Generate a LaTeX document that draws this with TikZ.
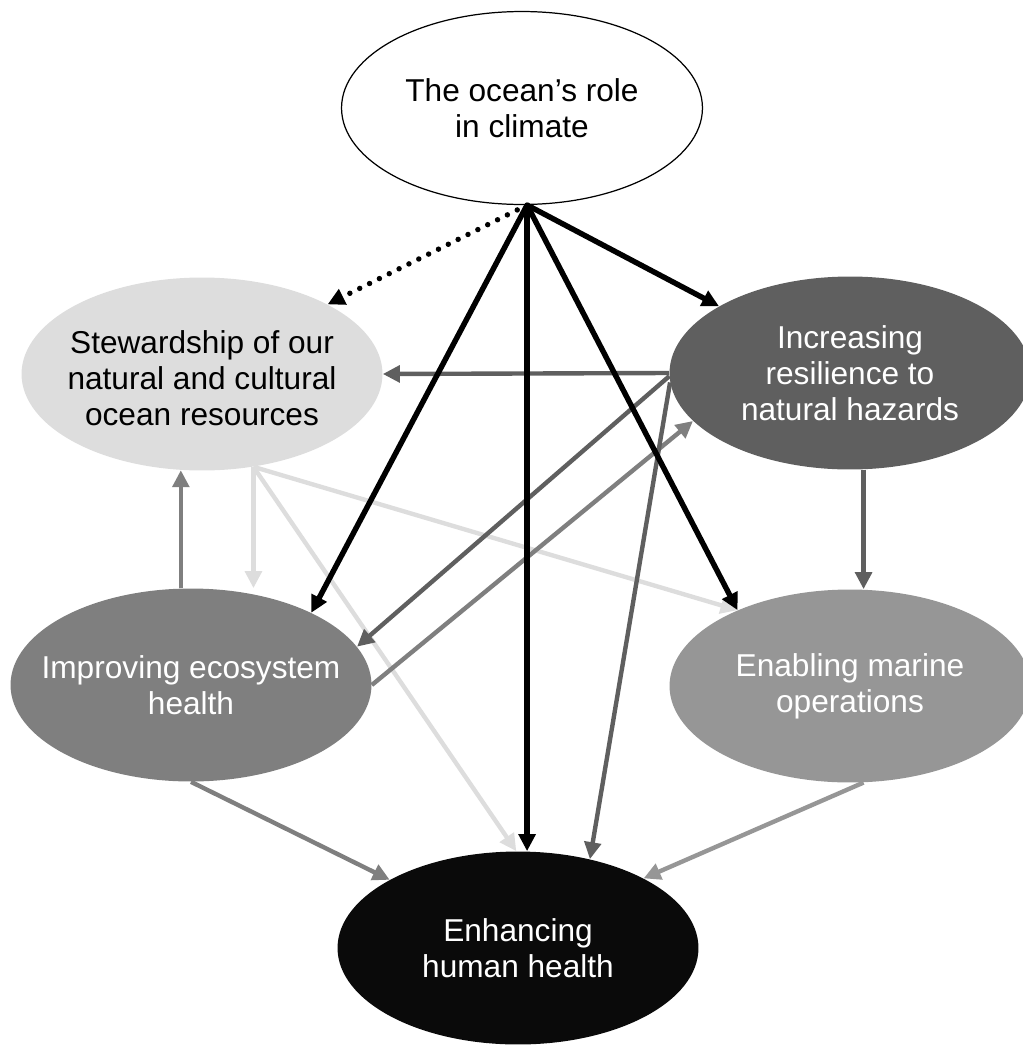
\documentclass[tikz,border=0pt]{standalone}
\usepackage{fontspec}
\setmainfont{Liberation Sans}
\usepackage{tikz}
\usetikzlibrary{shapes.geometric, arrows.meta}

\definecolor{stewgray}{HTML}{DDDDDD}
\definecolor{resilgray}{HTML}{5F5F5F}
\definecolor{ecogray}{HTML}{7F7F7F}
\definecolor{enabgray}{HTML}{969696}
\definecolor{healthblack}{HTML}{0A0A0A}

\begin{document}
\begin{tikzpicture}[x=0.02cm, y=-0.02cm,
    oval/.style={ellipse, minimum width=7.22cm, minimum height=3.86cm, inner sep=0pt},
    txt/.style={align=center, font=\fontsize{18}{20.5}\selectfont, inner sep=0pt},
    link/.style={line width=2.5pt, -{Triangle[length=0.34cm, width=0.33cm]}},
    bold link/.style={link, line width=3.1pt, black}] % coordinates are in pixels of the figure

        \useasboundingbox (0,0) rectangle (1022,1045);

        % Define the 6 ovals, then put the text on top of each
        \node[oval, draw=black, line width=0.7pt, fill=white] (clim) at (522,108) {};
        \node[oval, fill=stewgray] (stew) at (202,374) {};
        \node[oval, fill=resilgray] (resil) at (850,373) {};
        \node[oval, fill=ecogray] (eco) at (191,685) {};
        \node[oval, fill=enabgray] (enab) at (850,686) {};
        \node[oval, fill=healthblack] (hlth) at (518,948) {};

        \node[txt, text=black] (clim-t) at (clim) {The ocean’s role\\in climate};
        \node[txt, text=black] (stew-t) at ([yshift=-0.08cm]stew) {Stewardship of our\\natural and cultural\\ocean resources};
        \node[txt, text=white] (resil-t) at (resil) {Increasing\\resilience to\\natural hazards};
        \node[txt, text=white] (eco-t) at (eco) {Improving ecosystem\\health};
        \node[txt, text=white] (enab-t) at (enab) {Enabling marine\\operations};
        \node[txt, text=white] (hlth-t) at (hlth) {Enhancing\\human health};

        % Arrows out of stewardship (light gray)
        \draw[link, stewgray] (stew.-61) -- (stew.-61 |- eco.north);
        \draw[link, stewgray] (stew.-61) -- (hlth.91);
        \draw[link, stewgray] (stew.-61) -- (enab.146);

        % Arrows out of ecosystem health
        \draw[link, ecogray] (eco.96) -- (eco.96 |- stew.258);
        \draw[link, ecogray] (eco.east) -- (resil.197);
        \draw[link, ecogray] (eco.south) -- (hlth.152);

        % Arrows out of natural hazards
        \draw[link, resilgray] (resil.west) -- (stew.east);
        \draw[link, resilgray] (resil.181) -- (eco.13);
        \draw[link, resilgray] (resil.183) -- (hlth.51);
        \draw[link, resilgray] (resil.-82) -- (resil.-82 |- enab.north);

        % Arrow out of marine operations
        \draw[link, enabgray] (enab.-82) -- (hlth.29);

        % Arrows out of climate (black), the dotted one to stewardship
        \draw[bold link, dash pattern=on 0pt off 0.22cm, line cap=round] (clim.273) -- (stew.29);
        \draw[bold link] (clim.273) -- (resil.153);
        \draw[bold link] (clim.273) -- (eco.31);
        \draw[bold link] (clim.273) -- (clim.273 |- hlth.north);
        \draw[bold link] (clim.273) -- (enab.146);
\end{tikzpicture}
\end{document}
